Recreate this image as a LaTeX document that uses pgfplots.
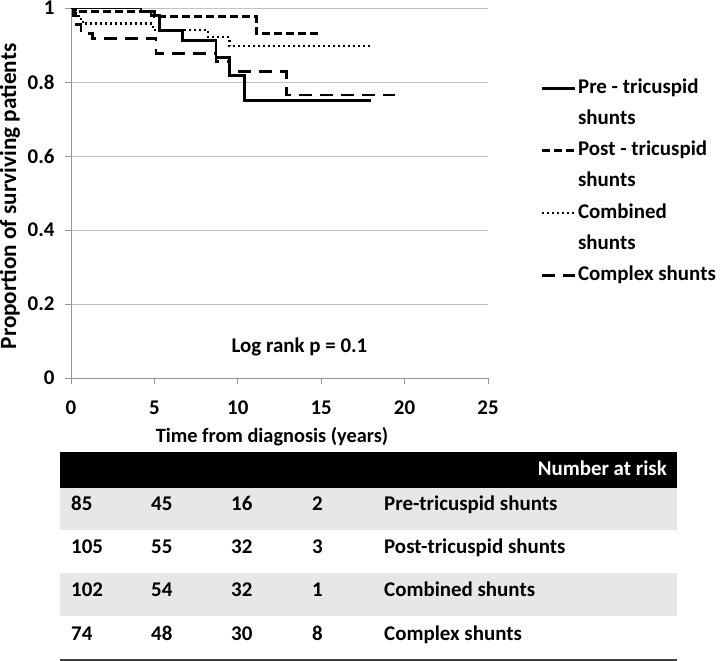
\documentclass[border=0pt]{standalone}
\usepackage{fontspec}
\setmainfont{Carlito}
\usepackage{pgfplots}
\pgfplotsset{compat=1.18}
\definecolor{gridgray}{RGB}{191,191,191}
\definecolor{axisgray}{RGB}{150,150,150}
\definecolor{rowgray}{RGB}{231,231,231}
\newcommand\fs{\fontsize{21}{26}\selectfont\bfseries}
\begin{document}
\begin{tikzpicture}
\path[use as bounding box] (0,0) rectangle (721bp,-661bp);
\begin{axis}[
  at={(71bp,-378bp)}, anchor=south west,
  scale only axis, width=417bp, height=370bp,
  xmin=0, xmax=25, ymin=0, ymax=1,
  xtick={0,5,10,15,20,25}, ytick={0,0.2,0.4,0.6,0.8,1},
  yticklabels={0,0.2,0.4,0.6,0.8,1},
  axis x line*=bottom, axis y line*=left,
  ymajorgrids, grid style={color=gridgray, line width=1bp},
  axis line style={color=axisgray, line width=1bp},
  tick style={color=axisgray, line width=1bp},
  tick align=outside, major tick length=6bp,
  /pgf/number format/assume math mode=true,
  ticklabel style={font=\fs},
  yticklabel style={xshift=-7bp},
  xticklabel style={yshift=-13bp},
  legend style={at={(axis description cs:1.118,0.831)}, anchor=north west,
    draw=none, fill=none, font=\fs, row sep=0bp,
    nodes={text height=15bp, text depth=5bp, inner ysep=5.6bp}},
  legend cell align=left,
  legend image code/.code={\draw[#1] (0bp,0bp) -- (33bp,0bp);},
  no marks,
]
\addplot[black, solid, line width=2.75bp, const plot] coordinates {(0,1) (4.2,0.99) (4.8,0.98) (5.3,0.94) (6.7,0.912) (8.7,0.866) (9.5,0.818) (10.4,0.75) (18.0,0.75)};
\addlegendentry{Pre - tricuspid}
\addlegendimage{empty legend}
\addlegendentry{shunts}
\addplot[black, line width=2.75bp, const plot, dash pattern=on 8bp off 4bp] coordinates {(0,1) (0.25,0.99) (5.0,0.977) (11.1,0.932) (15.0,0.932)};
\addlegendentry{Post - tricuspid}
\addlegendimage{empty legend}
\addlegendentry{shunts}
\addplot[black, line width=2.25bp, const plot, dash pattern=on 2bp off 3bp] coordinates {(0,1) (0.2,0.985) (0.45,0.97) (0.7,0.958) (4.9,0.94) (8.2,0.922) (9.5,0.897) (18.0,0.897)};
\addlegendentry{Combined}
\addlegendimage{empty legend}
\addlegendentry{shunts}
\addplot[black, line width=2.75bp, const plot, dash pattern=on 13bp off 8bp] coordinates {(0,1) (0.15,0.98) (0.35,0.955) (0.6,0.932) (1.3,0.918) (5.1,0.877) (8.7,0.855) (9.5,0.828) (12.9,0.765) (19.4,0.765)};
\addlegendentry{Complex shunts}
\node[font=\fs] at (axis cs:13.7,0.084) {Log rank p = 0.1};
\end{axis}
\node[font=\fontsize{20.4}{24}\selectfont\bfseries, anchor=base] at (272bp,-442bp) {Time from diagnosis (years)};
\node[font=\fontsize{23.3}{28}\selectfont\bfseries, rotate=90, anchor=base, inner sep=0pt] at (16bp,-196.5bp) {Proportion of surviving patients};
% number at risk table
\fill[black] (60bp,-452bp) rectangle (677bp,-488bp);
\node[font=\fs, text=white, anchor=base east, inner sep=0pt] at (667bp,-475bp) {Number at risk};
\fill[rowgray] (60bp,-488bp) rectangle (677bp,-530bp);
\fill[rowgray] (60bp,-573bp) rectangle (677bp,-616bp);
\draw[line width=2bp, black!75] (60bp,-659.5bp) -- (677bp,-659.5bp);
\foreach \y/\a/\b/\c/\d/\n in {510/85/45/16/2/Pre-tricuspid shunts,
  553/105/55/32/3/Post-tricuspid shunts,
  596.5/102/54/32/1/Combined shunts,
  640/74/48/30/8/Complex shunts}{
  \node[font=\fs, anchor=base west, inner sep=0pt] at (71bp,-\y bp) {\a};
  \node[font=\fs, anchor=base west, inner sep=0pt] at (151bp,-\y bp) {\b};
  \node[font=\fs, anchor=base west, inner sep=0pt] at (231bp,-\y bp) {\c};
  \node[font=\fs, anchor=base west, inner sep=0pt] at (312bp,-\y bp) {\d};
  \node[font=\fs, anchor=base west, inner sep=0pt] at (384bp,-\y bp) {\n};
}
\end{tikzpicture}
\end{document}
